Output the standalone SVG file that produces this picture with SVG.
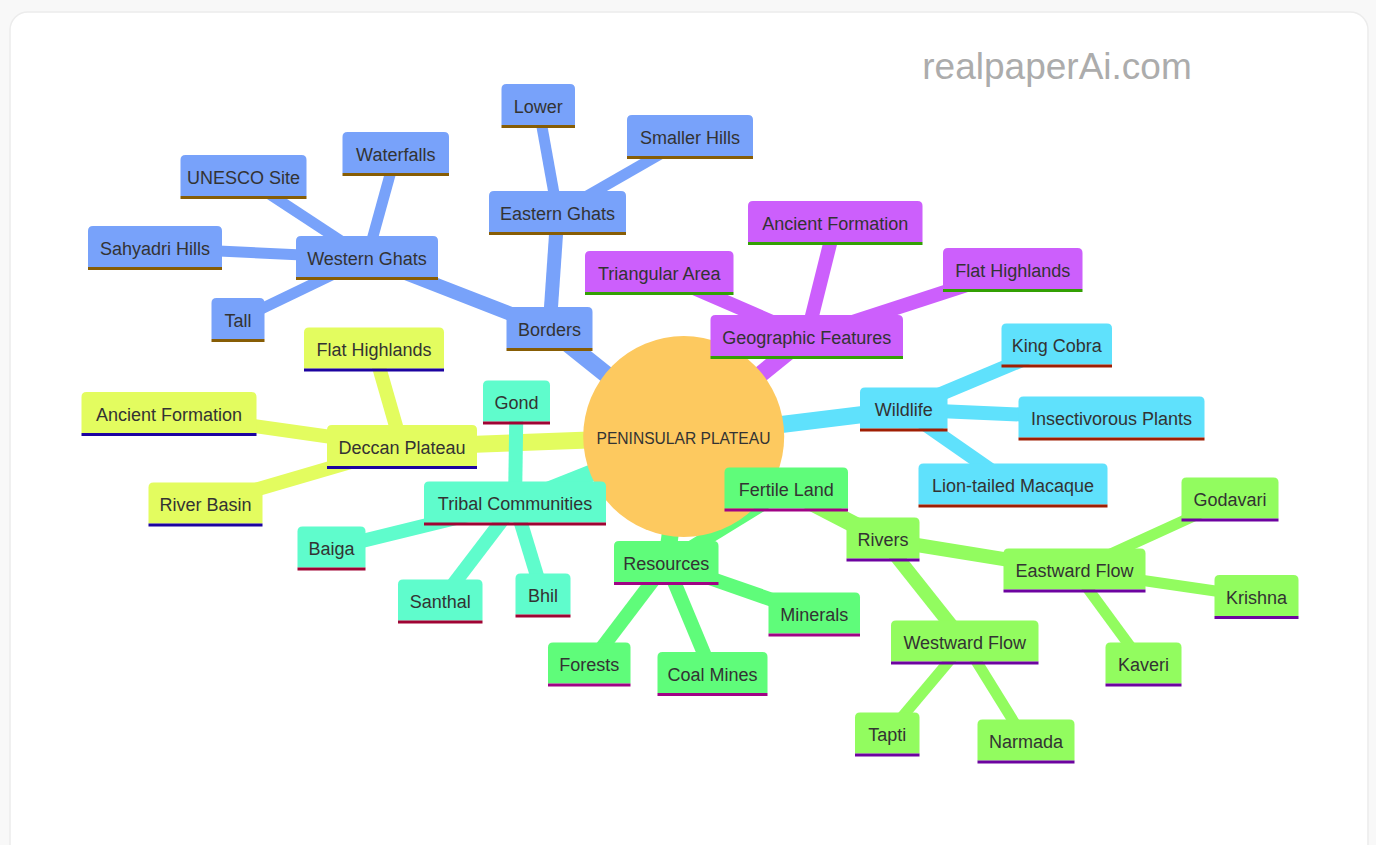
<svg xmlns="http://www.w3.org/2000/svg" width="1376" height="845" viewBox="0 0 1376 845">
<style>
.n text{font-family:"Liberation Sans",Arial,sans-serif;font-size:18px;fill:#333;text-anchor:middle}
.n line{stroke-width:3}
.s0 path{fill:#78A2FA}.s0 line{stroke:#875D05}
.s1 path{fill:#CC5FFC}.s1 line{stroke:#33A003}
.s2 path{fill:#5FE1FC}.s2 line{stroke:#A01E03}
.s3 path{fill:#E3FC5F}.s3 line{stroke:#1C03A0}
.s4 path{fill:#5FFCCC}.s4 line{stroke:#A00333}
.s5 path{fill:#5FFC7A}.s5 line{stroke:#A00385}
.s6 path{fill:#92FC5F}.s6 line{stroke:#6D03A0}
#edges line{fill:none}
.e0{stroke-width:17}.e1{stroke-width:14}.e2{stroke-width:11}
.c0{stroke:#78A2FA}.c1{stroke:#CC5FFC}.c2{stroke:#5FE1FC}.c3{stroke:#E3FC5F}.c4{stroke:#5FFCCC}.c5{stroke:#5FFC7A}.c6{stroke:#92FC5F}
</style>
<rect x="0" y="0" width="1376" height="845" fill="#f8f8f8"/>
<rect x="10" y="12" width="1358" height="850" rx="18" fill="#ffffff" stroke="#ececec" stroke-width="1.5"/>
<text x="1057" y="79" font-family="'Liberation Sans',Arial,sans-serif" font-size="37" fill="#acacac" text-anchor="middle">realpaperAi.com</text>
<g id="edges">
<line class="e0 c0" x1="683.7" y1="436.5" x2="549.5" y2="329"/>
<line class="e0 c1" x1="683.7" y1="436.5" x2="806.75" y2="337"/>
<line class="e0 c2" x1="683.7" y1="436.5" x2="903.75" y2="409.5"/>
<line class="e0 c3" x1="683.7" y1="436.5" x2="402" y2="447"/>
<line class="e0 c4" x1="683.7" y1="436.5" x2="515" y2="503.5"/>
<line class="e0 c5" x1="683.7" y1="436.5" x2="666.25" y2="563"/>
<line class="e0 c6" x1="683.7" y1="436.5" x2="883" y2="539.5"/>
<line class="e1 c0" x1="549.5" y1="329" x2="367" y2="258"/>
<line class="e1 c0" x1="549.5" y1="329" x2="557.5" y2="213"/>
<line class="e2 c0" x1="367" y1="258" x2="155" y2="248"/>
<line class="e2 c0" x1="367" y1="258" x2="243.5" y2="177"/>
<line class="e2 c0" x1="367" y1="258" x2="395.75" y2="154"/>
<line class="e2 c0" x1="367" y1="258" x2="238" y2="320"/>
<line class="e2 c0" x1="557.5" y1="213" x2="538.25" y2="106"/>
<line class="e2 c0" x1="557.5" y1="213" x2="690" y2="137"/>
<line class="e1 c1" x1="806.75" y1="337" x2="659.25" y2="273"/>
<line class="e1 c1" x1="806.75" y1="337" x2="835.25" y2="223"/>
<line class="e1 c1" x1="806.75" y1="337" x2="1012.75" y2="270"/>
<line class="e1 c2" x1="903.75" y1="409.5" x2="1056.75" y2="345.5"/>
<line class="e1 c2" x1="903.75" y1="409.5" x2="1111.5" y2="418.5"/>
<line class="e1 c2" x1="903.75" y1="409.5" x2="1013" y2="485.5"/>
<line class="e1 c3" x1="402" y1="447" x2="374" y2="349.5"/>
<line class="e1 c3" x1="402" y1="447" x2="169" y2="414"/>
<line class="e1 c3" x1="402" y1="447" x2="205.5" y2="504.5"/>
<line class="e1 c4" x1="515" y1="503.5" x2="516.5" y2="402.5"/>
<line class="e1 c4" x1="515" y1="503.5" x2="331.5" y2="548.5"/>
<line class="e1 c4" x1="515" y1="503.5" x2="440.25" y2="601.5"/>
<line class="e1 c4" x1="515" y1="503.5" x2="543" y2="595.5"/>
<line class="e1 c5" x1="666.25" y1="563" x2="786.25" y2="489.5"/>
<line class="e1 c5" x1="666.25" y1="563" x2="814.25" y2="614.5"/>
<line class="e1 c5" x1="666.25" y1="563" x2="589.25" y2="664.5"/>
<line class="e1 c5" x1="666.25" y1="563" x2="712.5" y2="674"/>
<line class="e1 c6" x1="883" y1="539.5" x2="1074.5" y2="570.5"/>
<line class="e1 c6" x1="883" y1="539.5" x2="964.75" y2="642.5"/>
<line class="e2 c6" x1="1074.5" y1="570.5" x2="1230" y2="499.5"/>
<line class="e2 c6" x1="1074.5" y1="570.5" x2="1256.5" y2="597"/>
<line class="e2 c6" x1="1074.5" y1="570.5" x2="1143.5" y2="664.5"/>
<line class="e2 c6" x1="964.75" y1="642.5" x2="887.25" y2="734.5"/>
<line class="e2 c6" x1="964.75" y1="642.5" x2="1026" y2="741.5"/>
</g>
<g id="root" class="n"><circle cx="683.7" cy="436.5" r="100.5" fill="#FDC95F"/><text x="683.5" y="444" style="font-size:15.6px">PENINSULAR PLATEAU</text></g>
<g id="borders" class="n s0"><path d="M506.5,348 V312 Q506.5,307 511.5,307 H587.5 Q592.5,307 592.5,312 V348 Z"/><line x1="506.5" y1="349.5" x2="592.5" y2="349.5"/><text x="549.5" y="335.6">Borders</text></g>
<g id="western-ghats" class="n s0"><path d="M296,277 V241 Q296,236 301,236 H433 Q438,236 438,241 V277 Z"/><line x1="296" y1="278.5" x2="438" y2="278.5"/><text x="367" y="264.6">Western Ghats</text></g>
<g id="eastern-ghats" class="n s0"><path d="M489,232 V196 Q489,191 494,191 H621 Q626,191 626,196 V232 Z"/><line x1="489" y1="233.5" x2="626" y2="233.5"/><text x="557.5" y="219.6">Eastern Ghats</text></g>
<g id="sahyadri-hills" class="n s0"><path d="M88,267 V231 Q88,226 93,226 H217 Q222,226 222,231 V267 Z"/><line x1="88" y1="268.5" x2="222" y2="268.5"/><text x="155" y="254.6">Sahyadri Hills</text></g>
<g id="unesco-site" class="n s0"><path d="M180.5,196 V160 Q180.5,155 185.5,155 H301.5 Q306.5,155 306.5,160 V196 Z"/><line x1="180.5" y1="197.5" x2="306.5" y2="197.5"/><text x="243.5" y="183.6">UNESCO Site</text></g>
<g id="waterfalls" class="n s0"><path d="M342.5,173 V137 Q342.5,132 347.5,132 H444 Q449,132 449,137 V173 Z"/><line x1="342.5" y1="174.5" x2="449" y2="174.5"/><text x="395.75" y="160.6">Waterfalls</text></g>
<g id="tall" class="n s0"><path d="M211.5,339 V303 Q211.5,298 216.5,298 H259.5 Q264.5,298 264.5,303 V339 Z"/><line x1="211.5" y1="340.5" x2="264.5" y2="340.5"/><text x="238" y="326.6">Tall</text></g>
<g id="lower" class="n s0"><path d="M501.5,125 V89 Q501.5,84 506.5,84 H570 Q575,84 575,89 V125 Z"/><line x1="501.5" y1="126.5" x2="575" y2="126.5"/><text x="538.25" y="112.6">Lower</text></g>
<g id="smaller-hills" class="n s0"><path d="M627,156 V120 Q627,115 632,115 H748 Q753,115 753,120 V156 Z"/><line x1="627" y1="157.5" x2="753" y2="157.5"/><text x="690" y="143.6">Smaller Hills</text></g>
<g id="geographic-features" class="n s1"><path d="M710.5,356 V320 Q710.5,315 715.5,315 H898 Q903,315 903,320 V356 Z"/><line x1="710.5" y1="357.5" x2="903" y2="357.5"/><text x="806.75" y="343.6">Geographic Features</text></g>
<g id="triangular-area" class="n s1"><path d="M585,292 V256 Q585,251 590,251 H728.5 Q733.5,251 733.5,256 V292 Z"/><line x1="585" y1="293.5" x2="733.5" y2="293.5"/><text x="659.25" y="279.6">Triangular Area</text></g>
<g id="ancient-formation-geo" class="n s1"><path d="M748,242 V206 Q748,201 753,201 H917.5 Q922.5,201 922.5,206 V242 Z"/><line x1="748" y1="243.5" x2="922.5" y2="243.5"/><text x="835.25" y="229.6">Ancient Formation</text></g>
<g id="flat-highlands-geo" class="n s1"><path d="M943,289 V253 Q943,248 948,248 H1077.5 Q1082.5,248 1082.5,253 V289 Z"/><line x1="943" y1="290.5" x2="1082.5" y2="290.5"/><text x="1012.75" y="276.6">Flat Highlands</text></g>
<g id="wildlife" class="n s2"><path d="M860,428.5 V392.5 Q860,387.5 865,387.5 H942.5 Q947.5,387.5 947.5,392.5 V428.5 Z"/><line x1="860" y1="430" x2="947.5" y2="430"/><text x="903.75" y="416.1">Wildlife</text></g>
<g id="king-cobra" class="n s2"><path d="M1001.5,364.5 V328.5 Q1001.5,323.5 1006.5,323.5 H1107 Q1112,323.5 1112,328.5 V364.5 Z"/><line x1="1001.5" y1="366" x2="1112" y2="366"/><text x="1056.75" y="352.1">King Cobra</text></g>
<g id="insectivorous-plants" class="n s2"><path d="M1018.5,437.5 V401.5 Q1018.5,396.5 1023.5,396.5 H1199.5 Q1204.5,396.5 1204.5,401.5 V437.5 Z"/><line x1="1018.5" y1="439" x2="1204.5" y2="439"/><text x="1111.5" y="425.1">Insectivorous Plants</text></g>
<g id="lion-tailed-macaque" class="n s2"><path d="M918.5,504.5 V468.5 Q918.5,463.5 923.5,463.5 H1102.5 Q1107.5,463.5 1107.5,468.5 V504.5 Z"/><line x1="918.5" y1="506" x2="1107.5" y2="506"/><text x="1013" y="492.1">Lion-tailed Macaque</text></g>
<g id="deccan-plateau" class="n s3"><path d="M327,466 V430 Q327,425 332,425 H472 Q477,425 477,430 V466 Z"/><line x1="327" y1="467.5" x2="477" y2="467.5"/><text x="402" y="453.6">Deccan Plateau</text></g>
<g id="flat-highlands-deccan" class="n s3"><path d="M304,368.5 V332.5 Q304,327.5 309,327.5 H439 Q444,327.5 444,332.5 V368.5 Z"/><line x1="304" y1="370" x2="444" y2="370"/><text x="374" y="356.1">Flat Highlands</text></g>
<g id="ancient-formation-deccan" class="n s3"><path d="M81.5,433 V397 Q81.5,392 86.5,392 H251.5 Q256.5,392 256.5,397 V433 Z"/><line x1="81.5" y1="434.5" x2="256.5" y2="434.5"/><text x="169" y="420.6">Ancient Formation</text></g>
<g id="river-basin" class="n s3"><path d="M148.5,523.5 V487.5 Q148.5,482.5 153.5,482.5 H257.5 Q262.5,482.5 262.5,487.5 V523.5 Z"/><line x1="148.5" y1="525" x2="262.5" y2="525"/><text x="205.5" y="511.1">River Basin</text></g>
<g id="tribal-communities" class="n s4"><path d="M424,522.5 V486.5 Q424,481.5 429,481.5 H601 Q606,481.5 606,486.5 V522.5 Z"/><line x1="424" y1="524" x2="606" y2="524"/><text x="515" y="510.1">Tribal Communities</text></g>
<g id="gond" class="n s4"><path d="M483,421.5 V385.5 Q483,380.5 488,380.5 H545 Q550,380.5 550,385.5 V421.5 Z"/><line x1="483" y1="423" x2="550" y2="423"/><text x="516.5" y="409.1">Gond</text></g>
<g id="baiga" class="n s4"><path d="M297.5,567.5 V531.5 Q297.5,526.5 302.5,526.5 H360.5 Q365.5,526.5 365.5,531.5 V567.5 Z"/><line x1="297.5" y1="569" x2="365.5" y2="569"/><text x="331.5" y="555.1">Baiga</text></g>
<g id="santhal" class="n s4"><path d="M398,620.5 V584.5 Q398,579.5 403,579.5 H477.5 Q482.5,579.5 482.5,584.5 V620.5 Z"/><line x1="398" y1="622" x2="482.5" y2="622"/><text x="440.25" y="608.1">Santhal</text></g>
<g id="bhil" class="n s4"><path d="M515.5,614.5 V578.5 Q515.5,573.5 520.5,573.5 H565.5 Q570.5,573.5 570.5,578.5 V614.5 Z"/><line x1="515.5" y1="616" x2="570.5" y2="616"/><text x="543" y="602.1">Bhil</text></g>
<g id="resources" class="n s5"><path d="M614,582 V546 Q614,541 619,541 H713.5 Q718.5,541 718.5,546 V582 Z"/><line x1="614" y1="583.5" x2="718.5" y2="583.5"/><text x="666.25" y="569.6">Resources</text></g>
<g id="fertile-land" class="n s5"><path d="M724.5,508.5 V472.5 Q724.5,467.5 729.5,467.5 H843 Q848,467.5 848,472.5 V508.5 Z"/><line x1="724.5" y1="510" x2="848" y2="510"/><text x="786.25" y="496.1">Fertile Land</text></g>
<g id="minerals" class="n s5"><path d="M768.5,633.5 V597.5 Q768.5,592.5 773.5,592.5 H855 Q860,592.5 860,597.5 V633.5 Z"/><line x1="768.5" y1="635" x2="860" y2="635"/><text x="814.25" y="621.1">Minerals</text></g>
<g id="forests" class="n s5"><path d="M548,683.5 V647.5 Q548,642.5 553,642.5 H625.5 Q630.5,642.5 630.5,647.5 V683.5 Z"/><line x1="548" y1="685" x2="630.5" y2="685"/><text x="589.25" y="671.1">Forests</text></g>
<g id="coal-mines" class="n s5"><path d="M657.5,693 V657 Q657.5,652 662.5,652 H762.5 Q767.5,652 767.5,657 V693 Z"/><line x1="657.5" y1="694.5" x2="767.5" y2="694.5"/><text x="712.5" y="680.6">Coal Mines</text></g>
<g id="rivers" class="n s6"><path d="M846.5,558.5 V522.5 Q846.5,517.5 851.5,517.5 H914.5 Q919.5,517.5 919.5,522.5 V558.5 Z"/><line x1="846.5" y1="560" x2="919.5" y2="560"/><text x="883" y="546.1">Rivers</text></g>
<g id="eastward-flow" class="n s6"><path d="M1003.5,589.5 V553.5 Q1003.5,548.5 1008.5,548.5 H1140.5 Q1145.5,548.5 1145.5,553.5 V589.5 Z"/><line x1="1003.5" y1="591" x2="1145.5" y2="591"/><text x="1074.5" y="577.1">Eastward Flow</text></g>
<g id="westward-flow" class="n s6"><path d="M891,661.5 V625.5 Q891,620.5 896,620.5 H1033.5 Q1038.5,620.5 1038.5,625.5 V661.5 Z"/><line x1="891" y1="663" x2="1038.5" y2="663"/><text x="964.75" y="649.1">Westward Flow</text></g>
<g id="godavari" class="n s6"><path d="M1181.5,518.5 V482.5 Q1181.5,477.5 1186.5,477.5 H1273.5 Q1278.5,477.5 1278.5,482.5 V518.5 Z"/><line x1="1181.5" y1="520" x2="1278.5" y2="520"/><text x="1230" y="506.1">Godavari</text></g>
<g id="krishna" class="n s6"><path d="M1214.5,616 V580 Q1214.5,575 1219.5,575 H1293.5 Q1298.5,575 1298.5,580 V616 Z"/><line x1="1214.5" y1="617.5" x2="1298.5" y2="617.5"/><text x="1256.5" y="603.6">Krishna</text></g>
<g id="kaveri" class="n s6"><path d="M1105.5,683.5 V647.5 Q1105.5,642.5 1110.5,642.5 H1176.5 Q1181.5,642.5 1181.5,647.5 V683.5 Z"/><line x1="1105.5" y1="685" x2="1181.5" y2="685"/><text x="1143.5" y="671.1">Kaveri</text></g>
<g id="tapti" class="n s6"><path d="M855,753.5 V717.5 Q855,712.5 860,712.5 H914.5 Q919.5,712.5 919.5,717.5 V753.5 Z"/><line x1="855" y1="755" x2="919.5" y2="755"/><text x="887.25" y="741.1">Tapti</text></g>
<g id="narmada" class="n s6"><path d="M977.5,760.5 V724.5 Q977.5,719.5 982.5,719.5 H1069.5 Q1074.5,719.5 1074.5,724.5 V760.5 Z"/><line x1="977.5" y1="762" x2="1074.5" y2="762"/><text x="1026" y="748.1">Narmada</text></g>
</svg>
